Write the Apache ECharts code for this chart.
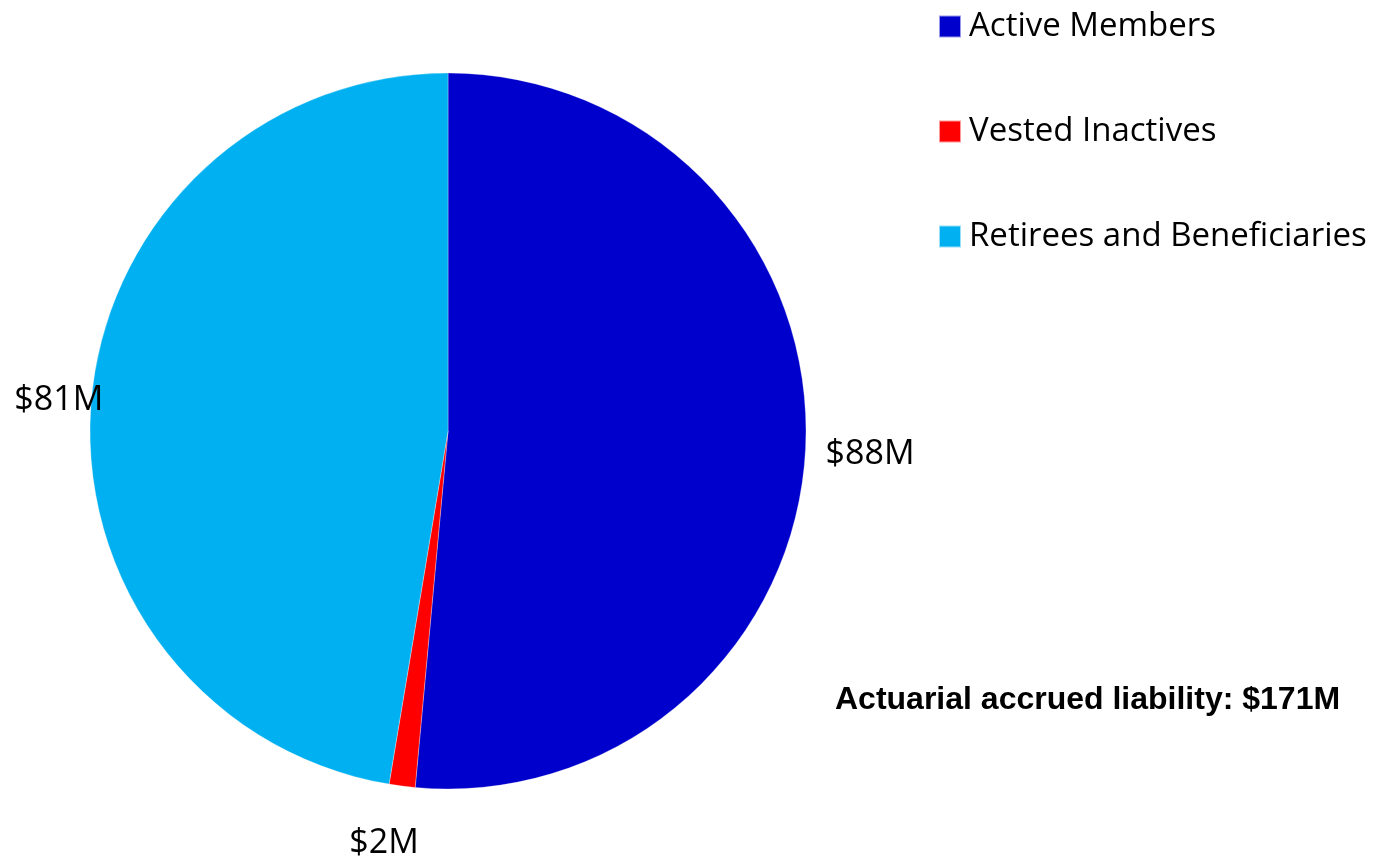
<!DOCTYPE html>
<html>
<head>
<meta charset="utf-8">
<script src="https://cdn.jsdelivr.net/npm/echarts@6/dist/echarts.min.js"></script>
<style>
html,body{margin:0;padding:0;background:#fff;}
#main{width:1387px;height:862px;}
</style>
</head>
<body>
<div id="main"></div>
<script>
const categories = ['Active Members', 'Vested Inactives', 'Retirees and Beneficiaries'];
const values = [88, 2, 81];
const valueLabels = ['$88M', '$2M', '$81M'];
const colors = ['#0000CC', '#FF0000', '#00B0F0'];
const totalLabel = 'Actuarial accrued liability: $171M';

// label nudges (style only)
const labelNudge = [[-5, 6], [33, 47], [37, 0]];

const chart = echarts.init(document.getElementById('main'));
const font = 'Open Sans';
chart.setOption({
  animation: false,
  legend: {
    orient: 'vertical',
    left: 938,
    top: 10,
    padding: 0,
    itemWidth: 22,
    itemHeight: 22,
    itemGap: 72,
    icon: 'rect',
    data: categories,
    textStyle: { fontFamily: font, fontSize: 33, color: '#000', padding: [0, 0, 0, 3] }
  },
  graphic: [{
    type: 'text',
    left: 835,
    top: 684,
    style: { text: totalLabel, font: 'bold 32px "Liberation Sans", Arial', fill: '#000' }
  }],
  series: [{
    type: 'pie',
    center: [448, 431],
    radius: 358,
    startAngle: 90,
    clockwise: true,
    avoidLabelOverlap: false,
    label: {
      show: true,
      position: 'outside',
      formatter: p => valueLabels[p.dataIndex],
      fontFamily: font,
      fontSize: 34,
      color: '#000'
    },
    labelLine: { show: false, length: 10, length2: 10 },
    labelLayout: p => ({ dx: labelNudge[p.dataIndex][0], dy: labelNudge[p.dataIndex][1] }),
    itemStyle: { borderColor: 'rgba(255,255,255,0.6)', borderWidth: 0.5 },
    data: categories.map((c, i) => ({ name: c, value: values[i], itemStyle: { color: colors[i] } }))
  }]
});
</script>
</body>
</html>
